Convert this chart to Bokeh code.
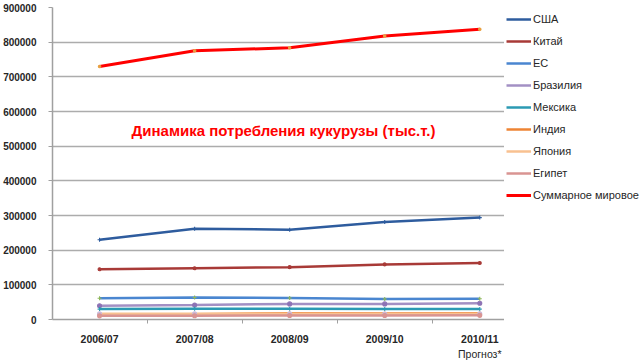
from bokeh.plotting import figure
from bokeh.layouts import row
from bokeh.models import (Range1d, FixedTicker, Legend, LegendItem, Label, NumeralTickFormatter,
                          LinearAxis)
from bokeh.embed import file_html
from bokeh.resources import INLINE

seasons = ["2006/07", "2007/08", "2008/09", "2009/10", "2010/11"]
forecast_note = "Прогноз*"
title_text = "Динамика потребления кукурузы (тыс.т.)"
y_ticks = [0, 100000, 200000, 300000, 400000, 500000, 600000, 700000, 800000, 900000]

usa = [230000, 262000, 259000, 281000, 294000]
china = [145000, 148000, 151000, 159000, 163000]
eu = [61500, 63500, 62000, 59000, 60000]
brazil = [39500, 41500, 45000, 45000, 47000]
mexico = [30000, 31000, 31000, 30000, 30000]
india = [15000, 15500, 18000, 17000, 18000]
japan = [16500, 16500, 16500, 16000, 16500]
egypt = [10500, 11000, 11500, 11500, 12000]
world = [730000, 775000, 784000, 818000, 837000]

series = [
    ("США", usa, "#2E5C9E", "#2E5C9E", "cross", 2.5, 4),
    ("Китай", china, "#A83A37", "#A83A37", "circle", 2.5, 3),
    ("ЕС", eu, "#4A86D0", "#8DB65A", "cross", 2.5, 4),
    ("Бразилия", brazil, "#A390C4", "#8D73B5", "circle", 2.5, 4),
    ("Мексика", mexico, "#2B9AB3", "#2B9AB3", "cross", 2.5, 4),
    ("Индия", india, "#EE8434", "#EE8434", "cross", 2.5, 4),
    ("Япония", japan, "#F8C190", "#C9B9D8", "circle", 2.5, 4),
    ("Египет", egypt, "#D99492", "#D99492", "circle", 2.5, 4),
    ("Суммарное мировое", world, "#FF0000", "#E8A040", "circle", 3, 2.5),
]

x_idx = list(range(len(seasons)))

p = figure(width=504, height=362, output_backend="svg", toolbar_location=None,
           x_range=Range1d(-0.495, 4.26), y_range=Range1d(0, 900000),
           min_border_left=52, min_border_right=0, min_border_top=7, min_border_bottom=43)
p.outline_line_color = None
p.background_fill_color = "white"
p.border_fill_color = "white"

# legend panel (separate figure, its lines lie outside its view)
lg = figure(width=136, height=362, output_backend="svg", toolbar_location=None,
            x_range=Range1d(100, 101), y_range=Range1d(0, 900000),
            x_axis_type=None, y_axis_type=None,
            min_border_left=0, min_border_right=0, min_border_top=0, min_border_bottom=0)
lg.outline_line_color = None
lg.xgrid.grid_line_color = None
lg.ygrid.grid_line_color = None

items = []
for name, vals, col, mcol, mk, lw, ms in series:
    p.line(x_idx, vals, line_color=col, line_width=lw)
    p.scatter(x_idx, vals, marker=mk, size=ms, line_color=mcol, fill_color=mcol, line_width=1.1)
    l1 = lg.line(x_idx, vals, line_color=col, line_width=lw)
    items.append(LegendItem(label=name, renderers=[l1]))

legend = Legend(items=items, location=(2, 114), padding=0, margin=0, spacing=2,
                glyph_width=25, glyph_height=20, label_height=20, label_standoff=2,
                label_text_font="Liberation Sans", label_text_font_size="11px",
                label_text_color="#262626", border_line_color=None,
                background_fill_alpha=0)
lg.add_layout(legend, "center")

# axes
p.xaxis.ticker = FixedTicker(ticks=x_idx, minor_ticks=[-0.5, 0.5, 1.5, 2.5, 3.5])
p.xaxis.major_label_overrides = {i: s for i, s in zip(x_idx, seasons)}
p.xaxis.major_tick_out = 0
p.xaxis.major_tick_in = 0
p.xaxis.minor_tick_out = 4
p.xaxis.minor_tick_in = 0
p.xaxis.minor_tick_line_color = "#A0A0A0"
p.xaxis.axis_line_color = "#A0A0A0"
p.xaxis.axis_line_width = 1.5
p.xaxis.major_label_standoff = 9
p.xaxis.major_label_text_font = "Liberation Sans"
p.xaxis.major_label_text_font_style = "bold"
p.xaxis.major_label_text_font_size = "10.5px"
p.xaxis.major_label_text_line_height = 0.8
p.xaxis.major_label_text_color = "#262626"

note_axis = LinearAxis(ticker=FixedTicker(ticks=[x_idx[-1]]),
                       major_label_overrides={x_idx[-1]: forecast_note})
note_axis.axis_line_color = None
note_axis.major_tick_line_color = None
note_axis.minor_tick_line_color = None
note_axis.major_tick_out = 0
note_axis.major_tick_in = 0
note_axis.major_label_standoff = 0
note_axis.major_label_text_font = "Liberation Sans"
note_axis.major_label_text_font_size = "10.5px"
note_axis.major_label_text_line_height = 0.8
note_axis.major_label_text_color = "#262626"
p.add_layout(note_axis, "below")

p.yaxis.ticker = FixedTicker(ticks=y_ticks)
p.yaxis.formatter = NumeralTickFormatter(format="0")
p.yaxis.major_tick_out = 4
p.yaxis.major_tick_in = 0
p.yaxis.minor_tick_line_color = None
p.yaxis.axis_line_color = "#A0A0A0"
p.yaxis.axis_line_width = 1.5
p.yaxis.major_tick_line_color = "#A0A0A0"
p.yaxis.major_label_standoff = 12
p.yaxis.major_label_text_font = "Liberation Sans"
p.yaxis.major_label_text_font_style = "bold"
p.yaxis.major_label_text_font_size = "10px"
p.yaxis.major_label_text_color = "#262626"

p.xgrid.grid_line_color = None
p.ygrid.grid_line_color = "#ACACAC"
p.ygrid.grid_line_width = 1.5

p.add_layout(Label(x=231, y=189, x_units="screen", y_units="screen", text=title_text,
                   text_align="center", text_baseline="middle", text_color="#FF0000",
                   text_font="Liberation Sans", text_font_style="bold",
                   text_font_size="15px"))

layout = row(p, lg, spacing=0)
open("out.html", "w").write(file_html(layout, INLINE))
